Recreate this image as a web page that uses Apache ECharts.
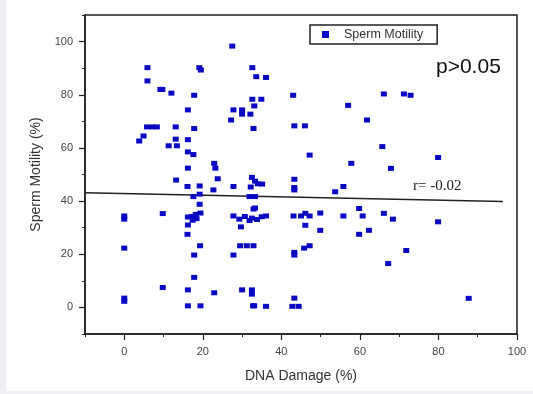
<!DOCTYPE html>
<html>
<head>
<meta charset="utf-8">
<script src="https://cdn.jsdelivr.net/npm/echarts@6/dist/echarts.min.js"></script>
<style>
  html, body { margin: 0; padding: 0; background: #fff; }
  #chart { width: 533px; height: 394px; }
</style>
</head>
<body>
<div id="chart"></div>
<script>
// DNA damage (%) vs sperm motility (%)
const points = [
  [0, 34.4], [0, 33.2], [0, 22.3], [0, 3.5], [0, 2.3],
  [3.8, 62.6], [4.9, 64.5], [5.9, 90.2], [5.9, 85.2], [5.8, 67.9], [7.1, 67.9], [8.3, 67.9],
  [9.2, 82], [9.7, 82], [9.8, 35.3], [9.8, 7.5],
  [11.3, 60.8], [12, 80.6], [13.1, 67.9], [13.1, 63.3], [13.4, 60.8], [13.2, 47.9],
  [16.2, 74.3], [16.2, 63.1], [16.2, 58.5], [17.6, 57.5], [16.2, 52.4], [16.1, 45.5],
  [17.8, 79.8], [17.8, 67.3], [19.1, 90.2], [19.5, 89.3], [19.2, 45.7], [19.2, 42.6],
  [17.6, 41.7], [19.2, 38.8], [19.4, 35.5], [18.2, 35], [17.2, 34.2], [16.2, 34],
  [16.2, 31], [17.4, 32.8], [18.4, 33.4], [16.1, 27.5], [17.8, 19.7], [17.8, 11.3],
  [19.3, 23.2], [16.2, 6.6], [16.2, 0.6], [19.4, 0.6],
  [22.9, 54.2], [23.2, 52.4], [23.8, 48.4], [22.7, 44.2], [22.9, 5.5],
  [27.5, 98.3], [27.2, 70.5], [27.8, 74.3], [30, 74.3], [30, 72.7], [32.1, 72.7],
  [32.6, 90.2], [32.6, 78.3], [33.1, 75.8], [32.9, 67.3], [33.6, 86.8], [34.9, 78.3], [36.1, 86.5],
  [27.8, 45.5], [27.8, 34.4], [27.8, 19.7],
  [32.5, 48.9], [33.3, 47.5], [34, 46.5], [35.1, 46.4], [32.2, 45.3],
  [31.9, 41.7], [33.3, 41.7], [32.9, 37], [33.3, 37.4],
  [29.3, 33.2], [29.7, 30.3], [30.7, 34.2], [31.9, 32.7], [32.5, 33.6], [33.8, 33.1], [35, 34.1], [36.1, 34.4],
  [29.5, 23.2], [31.2, 23.2], [32.9, 23.2],
  [30, 6.6], [32.5, 6.6], [32.5, 5], [33.1, 0.6], [32.8, 0.6], [36.1, 0.4],
  [43, 79.8], [43.3, 68.3], [46, 68.3], [47.2, 57.3], [43.3, 48.2], [43.3, 45.1], [43.3, 44.2],
  [43.1, 34.4], [45, 34.4], [46.1, 35.4], [47.2, 34.4], [46.1, 30.9],
  [43.3, 20.7], [43.3, 19.7], [45.8, 22.3], [47.2, 23.2], [43.3, 3.5], [42.8, 0.4], [44.4, 0.4],
  [49.9, 35.5], [49.9, 29], [53.7, 43.5], [55.8, 45.5], [55.8, 34.4], [57, 76], [57.8, 54.2],
  [59.8, 37.2], [60.7, 34.4], [59.8, 27.5], [61.8, 70.5], [62.3, 29],
  [65.7, 60.5], [66.1, 80.3], [66.1, 35.4], [67.9, 52.3], [68.4, 33.2], [67.2, 16.5],
  [71.2, 80.3], [72.9, 79.8], [71.8, 21.4], [79.9, 56.4], [79.9, 32.2], [87.7, 3.4]
];
// fitted line ends
const fitLine = [[-10, 43.1], [96.4, 39.8]];
const xMajorTicks = [0, 20, 40, 60, 80, 100];
const yMajorTicks = [0, 20, 40, 60, 80, 100];

const axisColor = '#222';
const labelColor = '#444';
const font = 'Liberation Sans, Arial, sans-serif';

const myChart = echarts.init(document.getElementById('chart'));
myChart.setOption({
  backgroundColor: '#fff',
  animation: false,
  grid: {
    left: 85, right: 16, top: 15, bottom: 60,
    show: true,
    borderColor: axisColor,
    borderWidth: 1.5
  },
  legend: {
    data: ['Sperm Motility'],
    left: 310, top: 25,
    padding: [3, 14, 3, 12],
    borderColor: axisColor,
    borderWidth: 1.5,
    icon: 'rect',
    itemWidth: 7, itemHeight: 7,
    textStyle: {
      fontFamily: font, fontSize: 12.5, color: '#333',
      padding: [0, 0, 0, 10]
    }
  },
  xAxis: [{
    type: 'value',
    min: -10, max: 100, interval: 10,
    name: 'DNA Damage (%)',
    nameLocation: 'middle',
    nameGap: 35,
    nameTextStyle: {fontFamily: font, fontSize: 14, color: '#333'},
    axisLine: {onZero: false, lineStyle: {color: axisColor, width: 1.5}},
    axisTick: {length: 3, lineStyle: {color: axisColor}},
    axisLabel: {
      margin: 12, fontFamily: font, fontSize: 11, color: labelColor,
      formatter(val) {
        return xMajorTicks.indexOf(val) >= 0 ? String(val) : '';
      }
    },
    splitLine: {show: false}
  }, {
    type: 'value',
    min: -10, max: 100,
    position: 'bottom',
    axisLine: {show: false, onZero: false},
    axisTick: {show: true, length: 6, customValues: xMajorTicks, lineStyle: {color: axisColor, width: 1.2}},
    axisLabel: {show: false},
    splitLine: {show: false}
  }],
  yAxis: [{
    type: 'value',
    min: -10, max: 110, interval: 10,
    name: 'Sperm Motility (%)',
    nameLocation: 'middle',
    nameGap: 42,
    nameTextStyle: {fontFamily: font, fontSize: 14, color: '#333'},
    axisLine: {onZero: false, lineStyle: {color: axisColor, width: 1.5}},
    axisTick: {length: 3, lineStyle: {color: axisColor}},
    axisLabel: {
      margin: 12, fontFamily: font, fontSize: 11, color: labelColor,
      formatter(val) {
        return yMajorTicks.indexOf(val) >= 0 ? String(val) : '';
      }
    },
    splitLine: {show: false}
  }, {
    type: 'value',
    min: -10, max: 110,
    position: 'left',
    axisLine: {show: false, onZero: false},
    axisTick: {show: true, length: 6, customValues: yMajorTicks, lineStyle: {color: axisColor, width: 1.2}},
    axisLabel: {show: false},
    splitLine: {show: false}
  }],
  series: [{
    name: 'Sperm Motility',
    type: 'scatter',
    symbol: 'rect',
    symbolSize: [6, 5],
    itemStyle: {color: '#0808c4', opacity: 1},
    data: points,
    z: 3
  }, {
    type: 'line',
    data: fitLine,
    symbol: 'none',
    lineStyle: {color: '#222', width: 1.5},
    silent: true,
    z: 2
  }],
  graphic: [
    {type: 'rect', left: 0, top: 0, shape: {width: 6, height: 394}, style: {fill: '#eef0f4'}},
    {type: 'rect', left: 0, top: 391, shape: {width: 533, height: 3}, style: {fill: '#eef0f4'}},
    {type: 'text', left: 436, top: 57, style: {text: 'p>0.05', font: '21px ' + font, fill: '#111'}},
    {type: 'text', left: 413, top: 179, style: {text: 'r= -0.02', font: '15px Liberation Serif, Times New Roman, serif', fill: '#222'}}
  ]
});
</script>
</body>
</html>
